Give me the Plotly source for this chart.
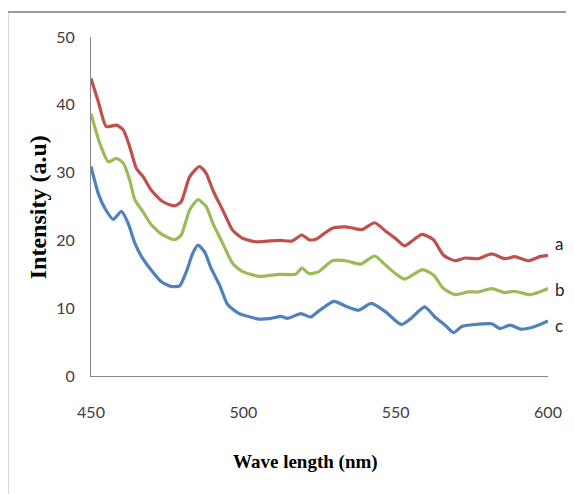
import plotly.graph_objects as go

# ---- data ----
wl_a = [450, 452.5, 455, 458.4, 460.6, 462.7, 464.9, 467.1, 469.8, 473.6,
        477.5, 479.6, 482.4, 485.6, 487.8, 490, 493.2, 496.5, 499.8, 504,
        508, 512, 516, 519.2, 521.6, 524, 526.5, 529.2, 533.6, 536,
        539, 543.1, 546.6, 549.9, 552.9, 555.9, 558.6, 562.4, 565.7, 569.5,
        572.8, 577.1, 581.5, 585.8, 589.1, 593.5, 597.3, 600]
int_a = [43.9, 40.3, 36.8, 37.0, 36.3, 33.8, 30.6, 29.4, 27.4, 25.7,
         25.1, 25.7, 29.4, 30.9, 29.9, 27.4, 24.5, 21.5, 20.3, 19.8,
         19.9, 20.0, 19.9, 20.8, 20.1, 20.2, 21.0, 21.8, 22.0, 21.8,
         21.6, 22.6, 21.4, 20.3, 19.2, 20.1, 20.9, 20.1, 17.8, 17.0,
         17.4, 17.3, 18.0, 17.3, 17.6, 17.0, 17.6, 17.8]

wl_b = [450, 452.9, 455.7, 458.4, 460.6, 462.7, 464.4, 467.1, 469.8, 473.6,
        477.5, 479.6, 482.4, 485.1, 487.8, 490, 493.2, 496.5, 499.8, 505.2,
        511.8, 517.2, 519.2, 521.6, 524.8, 529.2, 533.6, 538.5, 543.1, 546.6,
        549.9, 552.9, 555.9, 558.8, 562.4, 565.7, 569.5, 573.9, 577.1, 581.5,
        585.8, 589.1, 594, 597.3, 600]
int_b = [38.7, 34.3, 31.6, 32.1, 31.4, 28.9, 26.0, 24.2, 22.3, 20.8,
         20.1, 20.8, 24.5, 26.0, 25.0, 22.5, 19.6, 16.6, 15.4, 14.7,
         15.0, 15.0, 15.9, 15.1, 15.4, 17.0, 17.0, 16.5, 17.7, 16.4,
         15.1, 14.3, 15.0, 15.7, 14.9, 12.9, 12.0, 12.4, 12.4, 12.9,
         12.3, 12.5, 12.0, 12.4, 12.9]

wl_c = [450, 452.4, 454.6, 457.3, 460, 462.2, 464.4, 466.6, 469.8, 473.1,
        476.4, 479.1, 481.3, 483.4, 485.1, 487.3, 489.4, 492.2, 494.9, 498.7,
        505.2, 509.1, 512.3, 514.5, 518.9, 522.1, 524.8, 529.7, 533.6, 537.9,
        542, 546.6, 551.8, 555.3, 559.5, 562.9, 566.2, 569, 571.7, 576,
        581.5, 584.2, 587.5, 591.3, 595.7, 600]
int_c = [30.9, 26.9, 24.7, 23.1, 24.3, 22.5, 19.6, 17.6, 15.6, 13.9,
         13.2, 13.3, 15.4, 18.1, 19.3, 18.3, 15.9, 13.4, 10.5, 9.2,
         8.4, 8.5, 8.8, 8.5, 9.2, 8.7, 9.6, 11.0, 10.3, 9.7,
         10.7, 9.5, 7.6, 8.6, 10.2, 8.7, 7.5, 6.4, 7.3, 7.6,
         7.7, 7.0, 7.5, 6.9, 7.3, 8.1]

series_labels = ["a", "b", "c"]
label_y = [19.6, 12.7, 7.5]
colors = ["#C0504D", "#9BBB59", "#4F81BD"]

x_ticks = [450, 500, 550, 600]
y_ticks = [0, 10, 20, 30, 40, 50]

fig = go.Figure()
for wl, val, col, name in [(wl_a, int_a, colors[0], "a"),
                           (wl_b, int_b, colors[1], "b"),
                           (wl_c, int_c, colors[2], "c")]:
    fig.add_trace(go.Scatter(x=wl, y=val, mode="lines", name=name,
                             line=dict(color=col, width=3.2, shape="spline", smoothing=0.6),
                             showlegend=False))

tick_font = dict(family="Lato, Open Sans, sans-serif", size=16, color="#404040")

# the page body has an 8px margin, so the figure is 8px smaller and margins shifted
fig.update_layout(
    width=566, height=486,
    margin=dict(l=83, r=24, t=29, b=118),
    paper_bgcolor="white", plot_bgcolor="white",
    xaxis=dict(range=[450, 600], tickvals=x_ticks, showgrid=False, zeroline=False,
               showline=True, linecolor="#868686", linewidth=1.2, ticks="",
               tickfont=tick_font, ticklabelstandoff=22),
    yaxis=dict(range=[0, 50], tickvals=y_ticks, showgrid=False, zeroline=False,
               showline=True, linecolor="#868686", linewidth=1.2, ticks="",
               tickfont=tick_font, ticklabelstandoff=12),
)

fig.add_annotation(text="<b>Wave length (nm)</b>", xref="paper", yref="paper",
                   x=0.47, y=-0.254, showarrow=False,
                   font=dict(family="Liberation Serif, Times New Roman, serif", size=19, color="black"),
                   xanchor="center", yanchor="middle")
fig.add_annotation(text="<b>Intensity (a.u)</b>", xref="paper", yref="paper",
                   x=-0.1155, y=0.4985, showarrow=False,
                   font=dict(family="Liberation Serif, Times New Roman, serif", size=24, color="black"),
                   textangle=-90, xanchor="center", yanchor="middle")

for lab, ly in zip(series_labels, label_y):
    fig.add_annotation(text=lab, xref="paper", yref="y", x=1.011, y=ly,
                       showarrow=False, xanchor="left", yanchor="middle",
                       font=dict(family="Lato, Open Sans, sans-serif", size=17, color="#222222"))

# outer frame (top and left edges visible)
fig.add_shape(type="line", xref="paper", yref="paper", x0=-0.183, x1=1.06,
              y0=1.0737, y1=1.0737, line=dict(color="#9a9a9a", width=2))
fig.add_shape(type="line", xref="paper", yref="paper", x0=-0.183, x1=-0.183,
              y0=1.0737, y1=-0.36, line=dict(color="#9a9a9a", width=2))

fig.write_html("out.html")
